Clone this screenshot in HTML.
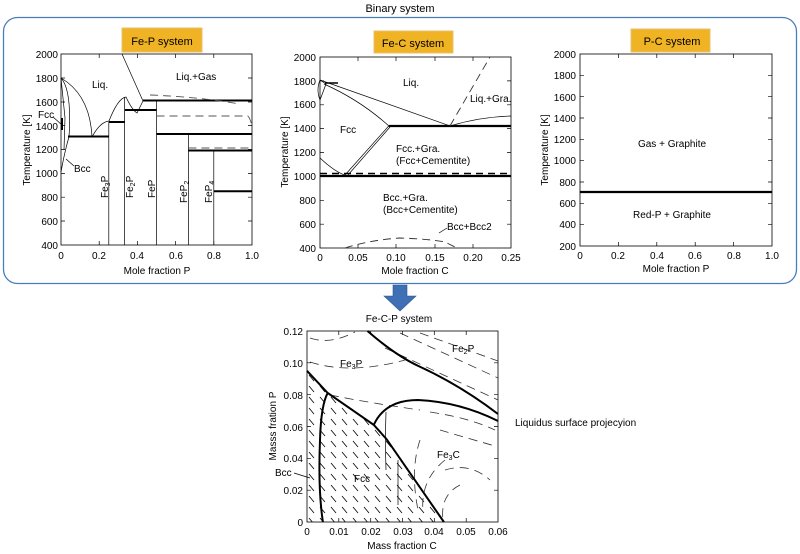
<!DOCTYPE html>
<html><head><meta charset="utf-8"><style>
body{margin:0;background:#fff;}
svg{display:block;font-family:"Liberation Sans",sans-serif;}
</style></head><body>
<svg width="800" height="554" viewBox="0 0 800 554" xmlns="http://www.w3.org/2000/svg">
<defs>
<pattern id="hat" width="11" height="11" patternUnits="userSpaceOnUse">
<line x1="1" y1="1" x2="6" y2="7" stroke="#000" stroke-width="0.8"/>
</pattern>
<clipPath id="fccclip"><polygon points="307,370.8 327.7,393 373.8,424.9 386.6,439.2 443.9,522 307,522"/></clipPath>
</defs>
<text x="400" y="12" font-size="11" text-anchor="middle">Binary system</text>
<rect x="3.5" y="17.5" width="793" height="266" rx="14" fill="none" stroke="#4a7ebb" stroke-width="1.3"/>

<!-- ===== Plot 1 Fe-P ===== -->
<rect x="122" y="28" width="80" height="24" fill="#f0b323" stroke="#e8c070"/>
<text x="162" y="45" font-size="11" text-anchor="middle">Fe-P system</text>
<g font-size="10" text-anchor="end">
<text x="58" y="58">2000</text><text x="58" y="82">1800</text><text x="58" y="106">1600</text><text x="58" y="130">1400</text><text x="58" y="153">1200</text><text x="58" y="177">1000</text><text x="58" y="201">800</text><text x="58" y="225">600</text><text x="58" y="249">400</text>
</g>
<g font-size="10" text-anchor="middle">
<text x="61" y="259">0</text><text x="99" y="259">0.2</text><text x="137" y="259">0.4</text><text x="176" y="259">0.6</text><text x="214" y="259">0.8</text><text x="252" y="259">1.0</text>
</g>
<text x="157" y="274" font-size="10" text-anchor="middle">Mole fraction P</text>
<text transform="translate(30,150) rotate(-90)" font-size="10" text-anchor="middle">Temperature [K]</text>
<rect x="61" y="54" width="191" height="191" fill="none" stroke="#000" stroke-width="0.8"/>
<g stroke="#000" stroke-width="0.7">
<path d="M61,78h4M61,102h4M61,125.6h4M61,149.5h4M61,173.4h4M61,197.2h4M61,221h4M252,78h-4M252,102h-4M252,125.6h-4M252,149.5h-4M252,173.4h-4M252,197.2h-4M252,221h-4M99.2,245v-4M137.4,245v-4M175.6,245v-4M213.8,245v-4M99.2,54v4M137.4,54v4M175.6,54v4M213.8,54v4"/>
</g>
<g stroke="#000" stroke-width="0.7" fill="none">
<path d="M61,78 Q90,95 92,137"/>
<path d="M92,137 Q100,122 109,121 Q118,98 126,97 Q132,110 137,113 L143,101"/>
<path d="M122,54 L143,101"/>
<path d="M61,78 Q72,90 69,137 Q65,150 61,172"/>
<path d="M61,78 L65,118 L64,150"/>
<line x1="108.8" y1="122" x2="108.8" y2="245"/>
<line x1="124.6" y1="97" x2="124.6" y2="245"/>
<line x1="156.5" y1="100" x2="156.5" y2="245"/>
<line x1="188.4" y1="134" x2="188.4" y2="245"/>
<line x1="213.8" y1="150" x2="213.8" y2="245"/>
</g>
<g stroke="#000" stroke-width="2" fill="none">
<line x1="68" y1="136.5" x2="108.8" y2="136.5"/>
<line x1="108.8" y1="122" x2="124.6" y2="122"/>
<line x1="124.6" y1="110" x2="156.5" y2="110"/>
<line x1="143" y1="100.5" x2="252" y2="100.5"/>
<line x1="156.5" y1="134" x2="252" y2="134"/>
<line x1="188.4" y1="150.5" x2="252" y2="150.5"/>
<line x1="213.8" y1="191.3" x2="252" y2="191.3"/>
<line x1="62" y1="118" x2="62" y2="130"/>
</g>
<g stroke="#555" stroke-width="0.9" fill="none" stroke-dasharray="8,5">
<line x1="156.5" y1="116" x2="248" y2="116"/>
<path d="M248,116 Q251,120 252,127"/>
<line x1="188.4" y1="148" x2="252" y2="148"/>
<path d="M150,95 Q200,97 240,104"/>
</g>
<g font-size="10">
<text x="92" y="88">Liq.</text><text x="176" y="80">Liq.+Gas</text>
<text x="38" y="118">Fcc</text><text x="74" y="172">Bcc</text>
</g>
<g stroke="#000" stroke-width="0.7"><line x1="53" y1="117" x2="61" y2="124"/><line x1="74" y1="166" x2="66" y2="159"/></g>
<g font-size="10">
<text transform="translate(108,198) rotate(-90)">Fe<tspan font-size="7" dy="2">3</tspan><tspan dy="-2">P</tspan></text>
<text transform="translate(133,198) rotate(-90)">Fe<tspan font-size="7" dy="2">2</tspan><tspan dy="-2">P</tspan></text>
<text transform="translate(155,198) rotate(-90)">FeP</text>
<text transform="translate(187,203) rotate(-90)">FeP<tspan font-size="7" dy="2">2</tspan></text>
<text transform="translate(212,203) rotate(-90)">FeP<tspan font-size="7" dy="2">4</tspan></text>
</g>

<!-- ===== Plot 2 Fe-C ===== -->
<rect x="374" y="31" width="79" height="22" fill="#f0b323" stroke="#e8c070"/>
<text x="413" y="47" font-size="11" text-anchor="middle">Fe-C system</text>
<g font-size="10" text-anchor="end">
<text x="316" y="61">2000</text><text x="316" y="85">1800</text><text x="316" y="108">1600</text><text x="316" y="132">1400</text><text x="316" y="156">1200</text><text x="316" y="180">1000</text><text x="316" y="204">800</text><text x="316" y="228">600</text><text x="316" y="252">400</text>
</g>
<g font-size="10" text-anchor="middle">
<text x="320" y="261">0</text><text x="358" y="261">0.05</text><text x="396" y="261">0.10</text><text x="435" y="261">0.15</text><text x="473" y="261">0.20</text><text x="511" y="261">0.25</text>
</g>
<text x="415" y="274" font-size="10" text-anchor="middle">Mole fraction C</text>
<text transform="translate(288,152) rotate(-90)" font-size="10" text-anchor="middle">Temperature [K]</text>
<rect x="320" y="57" width="191" height="191" fill="none" stroke="#000" stroke-width="0.8"/>
<g stroke="#000" stroke-width="0.7">
<path d="M320,80.9h4M320,104.8h4M320,128.6h4M320,152.5h4M320,200.3h4M320,224.2h4M511,80.9h-4M511,104.8h-4M511,128.6h-4M511,152.5h-4M511,200.3h-4M511,224.2h-4M358,248v-4M396,248v-4M435,248v-4M473,248v-4M358,57v4M396,57v4M435,57v4M473,57v4"/>
</g>
<g stroke="#000" stroke-width="0.7" fill="none">
<path d="M320,80 L450,125.9"/>
<path d="M324,84 Q360,100 388.8,125.9"/>
<path d="M320,158 Q335,172 345,175"/>
<path d="M345,175 L388.8,125.9"/><path d="M348,175 L390,127"/>
<path d="M450,125.9 Q480,117 511,116"/>
<path d="M320,80 Q316,90 320,100 L326,84 Z"/>
<line x1="325" y1="83" x2="338" y2="83" stroke-width="1.5"/>
</g>
<g stroke="#000" stroke-width="2.2" fill="none">
<line x1="388.8" y1="126" x2="511" y2="126"/>
<line x1="320" y1="176" x2="511" y2="176"/>
</g>
<line x1="320" y1="173.5" x2="511" y2="173.5" stroke="#000" stroke-width="1.5" stroke-dasharray="7,5"/>
<g stroke="#333" stroke-width="0.9" fill="none" stroke-dasharray="8,5">
<path d="M450,125.9 L490,57"/>
<path d="M345,248 Q370,240 400,238 Q430,239 445,242 L457,248"/>
</g>
<line x1="447" y1="228" x2="439" y2="233" stroke="#000" stroke-width="0.7"/>
<g font-size="10">
<text x="403" y="86">Liq.</text><text x="470" y="102">Liq.+Gra.</text><text x="340" y="133">Fcc</text>
<text x="396" y="152">Fcc.+Gra.</text><text x="396" y="164">(Fcc+Cementite)</text>
<text x="383" y="201">Bcc.+Gra.</text><text x="383" y="213">(Bcc+Cementite)</text>
<text x="447" y="230">Bcc+Bcc2</text>
</g>

<!-- ===== Plot 3 P-C ===== -->
<rect x="631" y="29" width="79" height="23" fill="#f0b323" stroke="#e8c070"/>
<text x="672" y="45" font-size="11" text-anchor="middle">P-C system</text>
<g font-size="10" text-anchor="end">
<text x="576" y="58">2000</text><text x="576" y="79">1800</text><text x="576" y="101">1600</text><text x="576" y="122">1400</text><text x="576" y="143">1200</text><text x="576" y="164">1000</text><text x="576" y="186">800</text><text x="576" y="207">600</text><text x="576" y="228">400</text><text x="576" y="250">200</text>
</g>
<g font-size="10" text-anchor="middle">
<text x="580" y="259">0</text><text x="618" y="259">0.2</text><text x="657" y="259">0.4</text><text x="695" y="259">0.6</text><text x="734" y="259">0.8</text><text x="772" y="259">1.0</text>
</g>
<text x="676" y="272" font-size="10" text-anchor="middle">Mole fraction P</text>
<text transform="translate(548,150) rotate(-90)" font-size="10" text-anchor="middle">Temperature [K]</text>
<rect x="580" y="54" width="192" height="192" fill="none" stroke="#000" stroke-width="0.8"/>
<g stroke="#000" stroke-width="0.7">
<path d="M580,75.3h4M580,96.7h4M580,118h4M580,139.3h4M580,160.7h4M580,182h4M580,203.3h4M580,224.7h4M772,75.3h-4M772,96.7h-4M772,118h-4M772,139.3h-4M772,160.7h-4M772,182h-4M772,203.3h-4M772,224.7h-4M618.4,246v-4M656.8,246v-4M695.2,246v-4M733.6,246v-4M618.4,54v4M656.8,54v4M695.2,54v4M733.6,54v4"/>
</g>
<line x1="580" y1="192" x2="772" y2="192" stroke="#000" stroke-width="2.2"/>
<text x="672" y="147" font-size="10" text-anchor="middle">Gas + Graphite</text>
<text x="672" y="218" font-size="10" text-anchor="middle">Red-P + Graphite</text>

<!-- ===== Arrow ===== -->
<polygon points="393,285 407,285 407,296 416,296 400,311 384,296 393,296" fill="#3f6fb5" stroke="#2f5597" stroke-width="0.6"/>

<!-- ===== Bottom Fe-C-P ===== -->
<text x="399" y="322" font-size="10" text-anchor="middle">Fe-C-P system</text>
<g font-size="10" text-anchor="end">
<text x="303" y="335">0.12</text><text x="303" y="367">0.10</text><text x="303" y="399">0.08</text><text x="303" y="431">0.06</text><text x="303" y="462">0.04</text><text x="303" y="494">0.02</text><text x="303" y="526">0</text>
</g>
<g font-size="10" text-anchor="middle">
<text x="307" y="535">0</text><text x="339" y="535">0.01</text><text x="371" y="535">0.02</text><text x="403" y="535">0.03</text><text x="434" y="535">0.04</text><text x="466" y="535">0.05</text><text x="498" y="535">0.06</text>
</g>
<text x="402" y="549" font-size="10" text-anchor="middle">Mass fraction C</text>
<text transform="translate(276,426) rotate(-90)" font-size="10" text-anchor="middle">Masss fration P</text>
<rect x="307" y="331" width="191" height="191" fill="none" stroke="#000" stroke-width="0.8"/>
<g stroke="#000" stroke-width="0.7">
<path d="M307,362.8h4M307,394.7h4M307,426.5h4M307,458.3h4M307,490.2h4M498,362.8h-4M498,394.7h-4M498,426.5h-4M498,458.3h-4M498,490.2h-4M338.8,522v-4M370.7,522v-4M402.5,522v-4M434.3,522v-4M466.2,522v-4M338.8,331v4M370.7,331v4M402.5,331v4M434.3,331v4M466.2,331v4"/>
</g>
<rect x="307" y="370" width="140" height="152" fill="url(#hat)" clip-path="url(#fccclip)"/>
<g stroke="#333" stroke-width="0.8" fill="none" stroke-dasharray="9,6">
<path d="M310,338 Q330,345 355,332"/>
<path d="M310,362 Q350,375 405,360"/>
<path d="M330,395 Q370,403 420,410"/>
<path d="M400,333 L498,378"/>
<path d="M420,333 L498,361"/>
<path d="M385,348 L498,400"/>
<path d="M430,412 Q470,418 495,430"/>
<path d="M420,440 Q410,470 418,510"/>
<path d="M440,430 Q460,436 495,446"/>
<path d="M445,460 Q420,480 423,512"/>
<path d="M445,470 Q470,462 490,480"/>
<path d="M460,485 Q440,495 443,520"/>
</g>
<g stroke="#000" stroke-width="0.7" fill="none">
<path d="M386,412 Q385,440 386,470"/>
<path d="M398,460 L398,505"/>
</g>
<g stroke="#000" stroke-width="2" fill="none">
<polyline points="307,370.8 327.7,393 373.8,424.9 386.6,439.2 443.9,522"/>
<path d="M322.9,522 Q318,490 320,440 Q321,405 327.7,393"/>
<path d="M373.8,424.9 Q385,400 418,400 Q460,402 498,421"/>
<path d="M367.5,331 Q395,355 418.4,366 Q460,385 498,414"/>
</g>
<g font-size="10">
<text x="340" y="367">Fe<tspan font-size="7" dy="2">3</tspan><tspan dy="-2">P</tspan></text>
<text x="452" y="352">Fe<tspan font-size="7" dy="2">2</tspan><tspan dy="-2">P</tspan></text>
<text x="437" y="458">Fe<tspan font-size="7" dy="2">3</tspan><tspan dy="-2">C</tspan></text>
<text x="354" y="482">Fcc</text>
<text x="275" y="476">Bcc</text>
<text x="515" y="426">Liquidus surface projecyion</text>
</g>
<line x1="294" y1="473" x2="310" y2="478" stroke="#000" stroke-width="0.8"/>
</svg>
</body></html>
